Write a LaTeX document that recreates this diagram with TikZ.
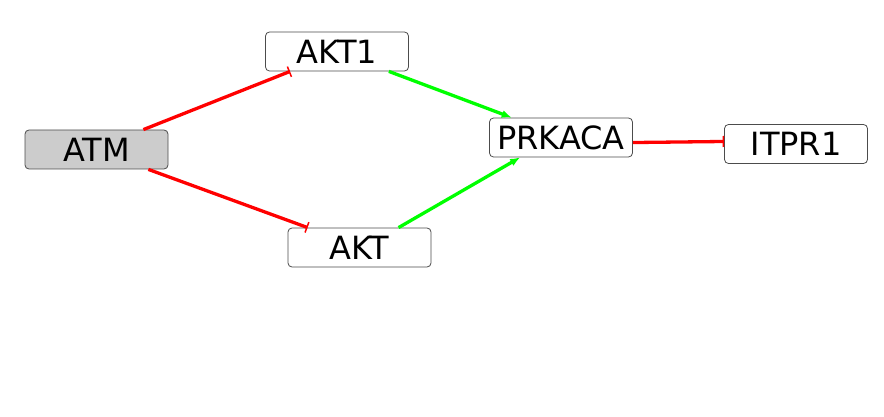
\documentclass[tikz,border=0pt]{standalone}
\usepackage{fontspec}
\setmainfont{DejaVu Sans}
\usetikzlibrary{arrows.meta}
\begin{document}
\begin{tikzpicture}[x=1pt,y=-1pt,
  gene/.style={draw=black!70,line width=0.8pt,rounded corners=4pt,fill=white,
    minimum width=143pt,minimum height=39pt,inner sep=0pt,font=\fontsize{32}{32}\selectfont},
  inh/.style={draw=red,line width=3.3pt,-{Bar[width=11pt,line width=1.5pt]}},
  act/.style={draw=green,line width=3.3pt,-{Latex[length=10pt,width=8pt]}}]
\useasboundingbox (0,0) rectangle (884,417);
\node[gene,fill=black!20] (ATM) at (96.5,149.5) {ATM};
\node[gene] (AKT1) at (337,51.5) {AKT1};
\node[gene] (AKT) at (359.5,247.5) {AKT};
\node[gene] (PRKACA) at (561,137.5) {PRKACA};
\node[gene] (ITPR1) at (796,144) {ITPR1};
\draw[inh] (ATM.23) -- (AKT1.203.6);
\draw[inh] (ATM.-21.7) -- (AKT.159.4);
\draw[act] (AKT1.-21.3) -- (PRKACA.158.3);
\draw[act] (AKT.27.5) -- (PRKACA.206.6);
\draw[inh] (PRKACA.-4) -- (ITPR1.178);
\end{tikzpicture}
\end{document}
